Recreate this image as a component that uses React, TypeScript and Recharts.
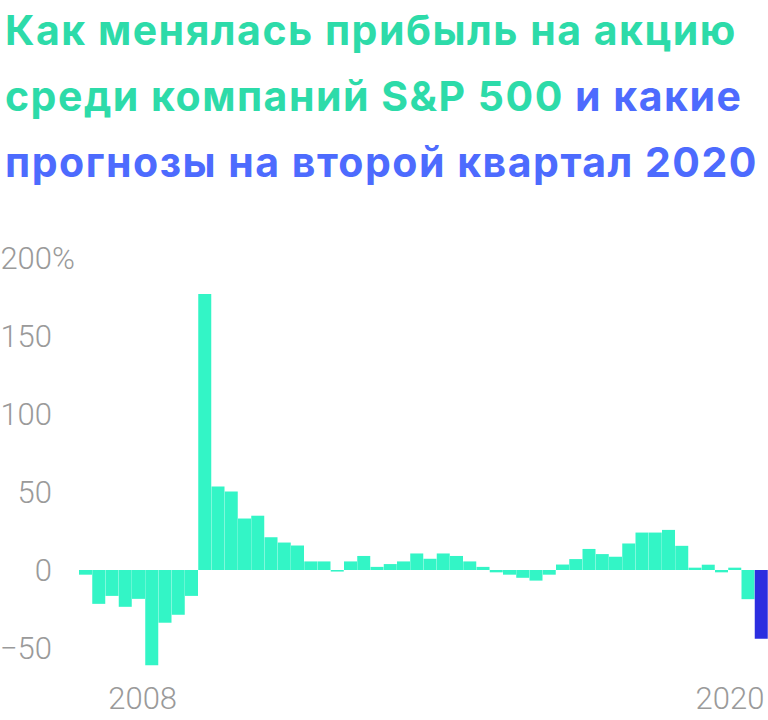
import React from "react";
import { BarChart, Bar, XAxis, YAxis, Cell } from "recharts";

const quarters: string[] = [
  "2007 Q3", "2007 Q4",
  "2008 Q1", "2008 Q2", "2008 Q3", "2008 Q4",
  "2009 Q1", "2009 Q2", "2009 Q3", "2009 Q4",
  "2010 Q1", "2010 Q2", "2010 Q3", "2010 Q4",
  "2011 Q1", "2011 Q2", "2011 Q3", "2011 Q4",
  "2012 Q1", "2012 Q2", "2012 Q3", "2012 Q4",
  "2013 Q1", "2013 Q2", "2013 Q3", "2013 Q4",
  "2014 Q1", "2014 Q2", "2014 Q3", "2014 Q4",
  "2015 Q1", "2015 Q2", "2015 Q3", "2015 Q4",
  "2016 Q1", "2016 Q2", "2016 Q3", "2016 Q4",
  "2017 Q1", "2017 Q2", "2017 Q3", "2017 Q4",
  "2018 Q1", "2018 Q2", "2018 Q3", "2018 Q4",
  "2019 Q1", "2019 Q2", "2019 Q3", "2019 Q4",
  "2020 Q1", "2020 Q2",
];

const epsGrowth: number[] = [
  -3, -21.7,
  -16.6, -23.6, -18.5, -61,
  -33.8, -28.7, -16.6, 177,
  53.5, 50.3, 33, 34.8,
  21, 17.6, 15.7, 5.5,
  5.5, -1, 5.5, 9,
  2, 3.8, 5.5, 10.6,
  7.2, 10.6, 9, 5.5,
  2, -1.5, -3, -5,
  -6.8, -3, 3.5, 7,
  13.5, 10.2, 8.5, 17,
  24, 24, 25.7, 15.5,
  1.5, 3.4, -1.5, 1.5,
  -18.7, -44,
];

const forecastQuarters: string[] = ["2020 Q2"];

const yTicks: number[] = [-50, 0, 50, 100, 150, 200];
const xTickQuarters: string[] = ["2008 Q3", "2020 Q2"];
const xTickLabels: string[] = ["2008", "2020"];

const data = quarters.map((q, i) => ({ q, v: epsGrowth[i] }));

const GREEN = "#2ddba9";
const BLUE = "#4d6bfe";
const BAR = "#33f5c6";
const BAR_FORECAST = "#2c2ee0";
const AXIS_GRAY = "#9a9a9a";
const AXIS_FONT = 31;

const YTick = (props: any) => {
  const { y, payload } = props;
  const val = payload.value;
  const label = val < 0 ? "\u2212" + Math.abs(val) : String(val);
  return (
    <g>
      <text
        x={52}
        y={y}
        dy="0.36em"
        textAnchor="end"
        fill={AXIS_GRAY}
        fontSize={AXIS_FONT}
        fontFamily="Roboto, sans-serif"
        fontWeight={300}
      >
        {label}
      </text>
      {val === 200 ? (
        <text
          x={52}
          y={y}
          dy="0.36em"
          textAnchor="start"
          fill={AXIS_GRAY}
          fontSize={AXIS_FONT}
          fontFamily="Roboto, sans-serif"
          fontWeight={300}
        >
          %
        </text>
      ) : null}
    </g>
  );
};

const XTick = (props: any) => {
  const { x, y, payload } = props;
  const idx = xTickQuarters.indexOf(payload.value);
  if (idx < 0) return null;
  const isLast = idx === xTickQuarters.length - 1;
  return (
    <text
      x={isLast ? x + 3 : x + 4}
      y={y}
      dy={14}
      textAnchor={isLast ? "end" : "middle"}
      fill={AXIS_GRAY}
      fontSize={AXIS_FONT}
      fontFamily="Roboto, sans-serif"
      fontWeight={300}
    >
      {xTickLabels[idx]}
    </text>
  );
};

export default function App() {
  return (
    <div
      style={{
        position: "absolute",
        left: 0,
        top: 0,
        width: 768,
        height: 720,
        background: "#ffffff",
        overflow: "hidden",
      }}
    >
      <div
        style={{
          position: "absolute",
          left: 5,
          top: -3,
          fontFamily: "Inter, Roboto, sans-serif",
          fontWeight: 700,
          fontSize: 41,
          letterSpacing: 1.5,
          lineHeight: "66px",
          whiteSpace: "nowrap",
        }}
      >
        <div style={{ color: GREEN }}>Как менялась прибыль на акцию</div>
        <div>
          <span style={{ color: GREEN }}>среди компаний S&amp;P 500</span>
          <span style={{ color: BLUE }}> и какие</span>
        </div>
        <div style={{ color: BLUE }}>прогнозы на второй квартал 2020</div>
      </div>
      <div style={{ position: "absolute", left: 0, top: 0 }}>
        <BarChart
          width={768}
          height={720}
          data={data}
          margin={{ top: 258, right: 0, bottom: 0, left: 0 }}
          barCategoryGap={0}
          barGap={0}
        >
          <XAxis
            dataKey="q"
            height={33}
            axisLine={false}
            tickLine={false}
            interval={0}
            ticks={xTickQuarters}
            tick={<XTick />}
          />
          <YAxis
            width={79}
            domain={[-75, 200]}
            ticks={yTicks}
            axisLine={false}
            tickLine={false}
            tick={<YTick />}
            allowDataOverflow
          />
          <Bar dataKey="v" isAnimationActive={false}>
            {data.map((d) => (
              <Cell
                key={d.q}
                fill={forecastQuarters.includes(d.q) ? BAR_FORECAST : BAR}
              />
            ))}
          </Bar>
        </BarChart>
      </div>
    </div>
  );
}
